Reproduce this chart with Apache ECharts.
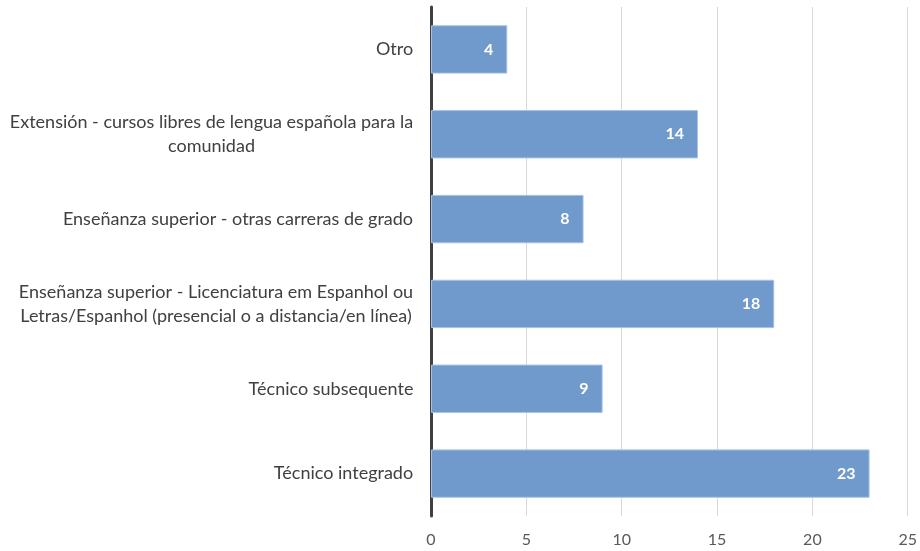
<!DOCTYPE html>
<html lang="es">
<head>
  <meta charset="UTF-8">
  <title>bar</title>
  <style>
    html, body { margin: 0; padding: 0; background: #fff; }
    #main { width: 920px; height: 551px; }
  </style>
</head>
<body>
  <div id="main"></div>
  <script src="https://cdn.jsdelivr.net/npm/echarts@6/dist/echarts.min.js"></script>
  <script>
    // categories from bottom to top
    var categories = [
      'Técnico integrado',
      'Técnico subsequente',
      'Enseñanza superior - Licenciatura em Espanhol ou\nLetras/Espanhol (presencial o a distancia/en línea)',
      'Enseñanza superior - otras carreras de grado',
      'Extensión - cursos libres de lengua española para la\ncomunidad',
      'Otro'
    ];
    var values = [23, 9, 18, 8, 14, 4];
    var xTicks = [0, 5, 10, 15, 20, 25];

    var labelFont = '18px Lato';
    var ctx = document.createElement('canvas').getContext('2d');
    ctx.font = labelFont;

    // each label's lines are centred on the widest line
    var rich = {};
    categories.forEach(function (c, i) {
      var w = 0;
      c.split('\n').forEach(function (line) {
        w = Math.max(w, ctx.measureText(line).width);
      });
      rich['l' + i] = { width: Math.ceil(w) + 1, align: 'center', fontFamily: 'Lato', fontSize: 18, color: '#404040', lineHeight: 24 };
    });

    var myChart = echarts.init(document.getElementById('main'));
    myChart.setOption({
      animation: false,
      grid: { left: 431, right: 10, top: 7, bottom: 35 },
      xAxis: {
        type: 'value',
        min: xTicks[0],
        max: xTicks[xTicks.length - 1],
        interval: 5,
        axisLine: { show: false },
        axisTick: { show: false },
        splitLine: { lineStyle: { color: '#d9d9d9', width: 1 } },
        axisLabel: { color: '#595959', fontFamily: 'Lato', fontSize: 16, margin: 16 }
      },
      yAxis: {
        type: 'category',
        data: categories,
        axisLine: { lineStyle: { color: '#404040', width: 3 } },
        axisTick: { show: false },
        axisLabel: {
          margin: 17,
          formatter: function (value, idx) {
            return value.split('\n').map(function (line) {
              return '{l' + idx + '|' + line + '}';
            }).join('\n');
          },
          rich: rich
        }
      },
      series: [{
        type: 'bar',
        data: values,
        barCategoryGap: '43%',
        itemStyle: { color: '#7099cc', borderColor: '#a8c2e2', borderWidth: 1 },
        label: {
          show: true,
          position: 'insideRight',
          distance: 14,
          color: '#ffffff',
          fontWeight: 'bold',
          fontFamily: 'Lato',
          fontSize: 16
        }
      }]
    });
  </script>
</body>
</html>
